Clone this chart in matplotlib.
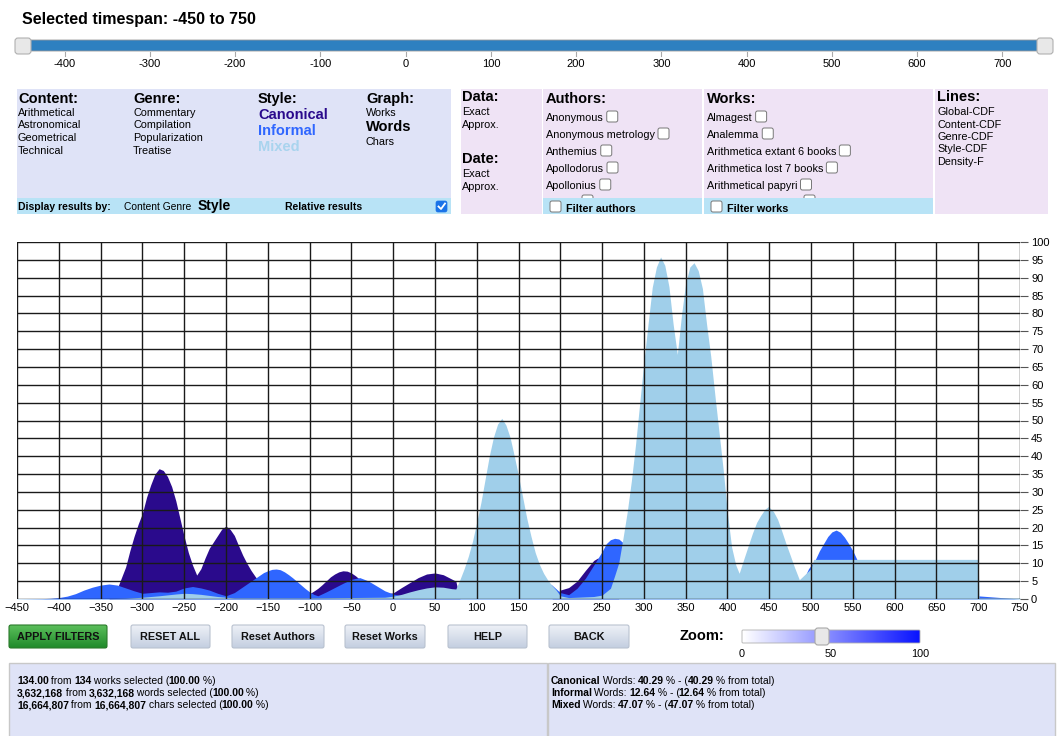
import matplotlib
matplotlib.use('Agg')
import matplotlib.pyplot as plt
import numpy as np
from matplotlib.patches import Rectangle, FancyBboxPatch
from matplotlib.colors import LinearSegmentedColormap

plt.rcParams['font.family'] = ['Liberation Sans', 'DejaVu Sans']

# density curves (relative words)
canon_x = [-450, -340, -330, -320, -315, -310, -305, -300, -295, -290, -285, -280, -275,
           -270, -265, -260, -255, -250, -245, -240, -235, -230, -225, -220, -215, -210,
           -205, -200, -195, -190, -185, -180, -175, -170, -165, -160, -150, -140, -130,
           -120, -110, -100, -95, -90, -85, -80, -75, -70, -65, -60, -55, -50, -45, -40,
           -30, -20, -10, 0, 10, 20, 30, 40, 50, 60, 70, 75, 80, 190, 200, 210, 220, 230,
           240, 245, 250, 260, 270, 750]
canon_y = [0, 0, 3, 9, 13.5, 17.5, 21, 24, 28.5, 32, 35, 36.5, 36,
           34.3, 31.5, 27.5, 22.5, 17.5, 13, 9.5, 6.7, 8.5, 11.5, 14.2, 16, 17.8,
           19.6, 20.4, 19.5, 17.8, 15, 12.3, 10, 8, 6.3, 4.8, 3, 1.5, 1,
           1, 1.2, 1.5, 2.2, 3, 4, 5.1, 6.2, 7, 7.6, 7.9, 7.8, 7.3, 6.5, 5.5,
           3.5, 2, 1.5, 1.7, 3.2, 4.6, 6, 7, 7.3, 6.8, 5.6, 5, 0, 0, 2.5, 3.2, 5, 8,
           10.8, 11.5, 10, 4, 0, 0]

inf_x = [-450, -420, -410, -400, -390, -380, -370, -360, -350, -340, -330, -320, -310,
         -300, -290, -280, -270, -260, -250, -240, -230, -220, -210, -200, -190, -180,
         -170, -165, -160, -155, -150, -145, -140, -135, -130, -125, -120, -115, -110,
         -105, -100, -95, -90, -80, -70, -60, -50, -40, -30, -20, -10, 0, 10, 20, 40,
         60, 70, 80, 100, 170, 180, 190, 200, 210, 220, 230, 240, 250, 255, 260, 265, 270,
         275, 280, 290, 300, 490, 497, 505, 510, 515, 520, 525, 530, 535, 540, 545, 550,
         555, 560, 580, 750]
inf_y = [0, 0.1, 0.2, 0.4, 0.8, 1.5, 2.5, 3.3, 3.9, 4.2, 3.9, 3.1, 2.3,
         1.6, 1.8, 2.0, 1.9, 2.2, 3.1, 3.5, 3.1, 2.5, 1.6, 0.9, 1.8, 3.4,
         5.0, 5.8, 6.6, 7.4, 7.9, 8.3, 8.4, 8.2, 7.6, 6.8, 5.9, 4.9, 3.9,
         2.9, 2.0, 1.3, 0.9, 2.0, 3.2, 4.4, 5.5, 6.0, 5.1, 3.7, 2.3, 1.4, 0.9, 1.2, 2.2,
         2.6, 2.5, 2.0, 1, 1, 5.3, 3.9, 1.8, 1.2, 3.0, 5.8, 9.5, 13.3, 15.5, 16.6, 17, 16.8,
         15.8, 13, 8, 5, 5, 8.5, 11, 13.5, 15.5, 17.5, 18.8, 19.3, 18.7, 17.3, 15.5, 13.5,
         11, 8, 3, 0]

mix_x = [-450, -340, -320, -300, -280, -260, -250, -240, -230, -220, -210, -200, -190,
         -100, -10, 0, 10, 20, 30, 40, 50, 60, 70, 75, 80, 85, 90, 95, 100, 105, 110, 115,
         120, 125, 130, 135, 140, 145, 150, 155, 160, 165, 170, 175, 180, 185, 190, 195,
         200, 210, 240, 250, 260, 265, 270, 275, 280, 285, 290, 295, 300, 305, 310, 315,
         320, 325, 330, 335, 340, 345, 350, 355, 360, 365, 370, 375, 380, 385, 390, 395,
         400, 405, 410, 414, 420, 425, 430, 435, 440, 445, 449, 455, 460, 465, 470, 475,
         480, 486, 490, 495, 500, 503, 700, 701, 750]
mix_y = [0.1, 0.1, 0.2, 0.5, 0.9, 1.4, 1.6, 1.5, 1.3, 1.0, 0.7, 0.5, 0.3,
         0.3, 0.5, 0.8, 1.3, 2.0, 2.6, 3.1, 3.4, 3.3, 2.9, 2.8, 5.5, 8.5, 12, 16.2, 21.5,
         27, 33.5, 40, 45.3, 49, 50.6, 48.7, 45.2, 40, 34.5, 28.5, 22.5, 17.5, 13, 9.7,
         7.2, 5.3, 3.8, 2.5, 0.9, 0.4, 0.7, 1.1, 3, 6.5, 10.2, 17, 24.3, 33, 43.2, 54.8,
         66.5, 77, 87.3, 93, 95.8, 93.5, 87.5, 77, 68.5, 79.5, 88.5, 93, 94.2, 92, 87, 77,
         68, 57, 46.5, 36, 24, 14.5, 9.5, 7.2, 11.5, 15, 18.5, 21.5, 23.5, 25.2, 25.9,
         24.5, 22.3, 19, 15.5, 12.3, 9, 5.4, 6.3, 7.4, 8.5, 11.1, 11.1, 0.3, 0.3]

slider_ticks = [-400, -300, -200, -100, 0, 100, 200, 300, 400, 500, 600, 700]
content = ['Arithmetical', 'Astronomical', 'Geometrical', 'Technical']
genre = ['Commentary', 'Compilation', 'Popularization', 'Treatise']
graph = ['Works', 'Words', 'Chars']
authors = ['Anonymous', 'Anonymous metrology', 'Anthemius', 'Apollodorus', 'Apollonius']
works = ['Almagest', 'Analemma', 'Arithmetica extant 6 books', 'Arithmetica lost 7 books',
         'Arithmetical papyri']
lines = ['Global-CDF', 'Content-CDF', 'Genre-CDF', 'Style-CDF', 'Density-F']
buttons = ['APPLY FILTERS', 'RESET ALL', 'Reset Authors', 'Reset Works', 'HELP', 'BACK']
totals = [('134.00', '134', 'works'), ('3,632,168', '3,632,168', 'words'),
          ('16,664,807', '16,664,807', 'chars')]
styles = ['Canonical', 'Informal', 'Mixed']
style_pct = ['40.29', '12.64', '47.07']

C_CAN = '#2a0a8c'
C_INF = '#2f66ff'
C_MIX = '#a0cfea'
BLUEP = '#dfe3f7'
PINKP = '#efe3f5'
CYAN = '#b8e3f6'

W, H = 1060, 736
fig = plt.figure(figsize=(10.6, 7.36), dpi=100)
bg = fig.add_axes([0, 0, 1, 1])
bg.axis('off')
rend = fig.canvas.get_renderer()


def box(x0, y0, x1, y1, fc, ec='none', lw=0, z=1):
    bg.add_patch(Rectangle((x0, y0), x1 - x0, y1 - y0, fc=fc, ec=ec, lw=lw, zorder=z))


def rbox(x0, y0, x1, y1, fc, ec, lw=0.8, r=3, z=3):
    p = FancyBboxPatch((x0, y0), x1 - x0, y1 - y0,
                       boxstyle='round,pad=0,rounding_size=%g' % r,
                       fc=fc, ec=ec, lw=lw, zorder=z)
    bg.add_patch(p)
    return p


def grad(x0, y0, x1, y1, c0, c1, horiz=False, z=2):
    cm = LinearSegmentedColormap.from_list('g', [c0, c1])
    g = np.linspace(0, 1, 64)
    g = g.reshape(1, -1) if horiz else g.reshape(-1, 1)
    bg.imshow(g, cmap=cm, extent=(x0, x1, y1, y0), aspect='auto', zorder=z,
              interpolation='bilinear')


def width(s, size, bold=False):
    t = bg.text(0, 0, '|' + s + '|', fontsize=size, fontweight='bold' if bold else 'normal')
    t2 = bg.text(0, 0, '||', fontsize=size, fontweight='bold' if bold else 'normal')
    w = t.get_window_extent(rend).width - t2.get_window_extent(rend).width
    t.remove()
    t2.remove()
    return w


def txt(x, y, s, size=8, bold=False, color='black', ha='left'):
    bg.text(x, y, s, fontsize=size, fontweight='bold' if bold else 'normal',
            color=color, ha=ha, va='baseline', zorder=5)


def runs(x, y, parts, size=7):
    for s, b in parts:
        txt(x, y, s, size, b)
        x += width(s, size, b) - 0.6
    return x


def checkbox(x, y, s=11, z=4):
    return rbox(x, y, x + s, y + s, 'white', '#777777', lw=0.7, r=2, z=z)


# title and time slider
txt(22, 24, 'Selected timespan: -450 to 750', 11.5, True)
rbox(22, 40, 1045, 51, '#2e80c0', '#9a9a9a', lw=0.6, r=1, z=2)
for v in slider_ticks:
    xs = 22 + (v + 450) * 1023 / 1200
    bg.plot([xs, xs], [52, 56], color='#aaaaaa', lw=0.8, zorder=2)
    txt(xs, 67, str(v), 8, ha='center')
rbox(15, 38, 31, 54, '#e8e8e8', '#b0b0b0', lw=0.8, r=3, z=4)
rbox(1037, 38, 1053, 54, '#e8e8e8', '#b0b0b0', lw=0.8, r=3, z=4)

# filter panels
box(17, 89, 451, 214, BLUEP)
box(17, 198, 451, 214, CYAN, z=1.5)
txt(18, 103, 'Content:', 10.5, True)
txt(133, 103, 'Genre:', 10.5, True)
txt(258, 103, 'Style:', 10.5, True)
txt(366, 103, 'Graph:', 10.5, True)
for i, s in enumerate(content):
    txt(18, 116 + i * 12.5, s, 7.8)
for i, s in enumerate(genre):
    txt(133, 116 + i * 12.5, s, 7.8)
for i, (s, c) in enumerate(zip(styles, [C_CAN, C_INF, '#a9d4ee'])):
    txt(258, 119 + i * 16, s, 10.5, True, c)
txt(366, 116, graph[0], 7.8)
txt(366, 131, graph[1], 10.5, True)
txt(366, 145, graph[2], 7.8)
txt(18, 210, 'Display results by:', 7.5, True)
txt(124, 210, 'Content Genre', 7.4)
txt(198, 210, 'Style', 10, True)
txt(285, 210, 'Relative results', 7.5, True)
rbox(436, 201, 447, 212, '#1a73e8', '#1a73e8', lw=0.5, r=2, z=4)
bg.plot([438.5, 441, 445], [206.5, 209, 203.5], color='white', lw=1.3, zorder=5)

box(461, 89, 542, 214, PINKP)
txt(462, 101, 'Data:', 10.5, True)
txt(462, 115, 'Exact', 7.8)
txt(462, 128, 'Approx.', 7.8)
txt(462, 163, 'Date:', 10.5, True)
txt(462, 177, 'Exact', 7.8)
txt(462, 190, 'Approx.', 7.8)

for x0, x1, head, items, foot, peek in [(543, 702, 'Authors:', authors, 'Filter authors', 39),
                                        (704, 933, 'Works:', works, 'Filter works', 100)]:
    box(x0, 89, x1, 214, PINKP)
    txt(x0 + 3, 103, head, 10.5, True)
    for i, s in enumerate(items):
        txt(x0 + 3, 121 + i * 17, s, 7.8)
        checkbox(x0 + 6 + width(s, 7.8), 111 + i * 17)
    checkbox(x0 + peek, 195, 11)
    box(x0, 198, x1, 214, CYAN, z=4.5)
    checkbox(x0 + 7, 201, 11, z=4.6)
    txt(x0 + 23, 212, foot, 7.8, True)

box(935, 89, 1048, 214, PINKP)
txt(937, 101, 'Lines:', 10.5, True)
for i, s in enumerate(lines):
    txt(937, 115 + i * 12.5, s, 7.8)

# chart
ax = fig.add_axes([17 / W, (H - 599) / H, (1020 - 17) / W, (599 - 242) / H])
ax.fill_between(canon_x, canon_y, color=C_CAN, lw=0, zorder=1)
ax.fill_between(inf_x, inf_y, color=C_INF, lw=0, zorder=1.1)
ax.fill_between(mix_x, mix_y, color=C_MIX, lw=0, zorder=1.2)
ax.set_xlim(-450, 750)
ax.set_ylim(0, 100)
ax.set_xticks(range(-450, 751, 50))
ax.set_yticks(range(0, 101, 5))
ax.grid(True, color='#1a1a1a', lw=1.0)
ax.set_axisbelow(False)
ax.yaxis.tick_right()
ax.tick_params(axis='x', length=0, pad=3, labelsize=8)
ax.tick_params(axis='y', length=6, width=0.8, color='#555555', pad=2, labelsize=8)
for sp in ax.spines.values():
    sp.set_visible(False)
ax.set_facecolor('white')

# buttons and zoom
bx = [(9, 107), (131, 210), (232, 324), (345, 425), (448, 527), (549, 629)]
for (x0, x1), s in zip(bx, buttons):
    if s == 'APPLY FILTERS':
        grad(x0, 625, x1, 648, '#5cbf5c', '#1f8a2a')
        ec = '#2c7a2c'
    else:
        grad(x0, 625, x1, 648, '#eef1f7', '#c3cee0')
        ec = '#b9c2d0'
    rbox(x0, 625, x1, 648, 'none', ec, lw=0.8, r=2, z=3)
    bg.text((x0 + x1) / 2, 637, s, fontsize=7.8, fontweight='bold', ha='center',
            va='center', color='#111111', zorder=5)

txt(680, 640, 'Zoom:', 10.5, True)
grad(742, 630, 920, 643, '#ffffff', '#0a14ff', horiz=True)
rbox(742, 630, 920, 643, 'none', '#b0b0b0', lw=0.6, r=1, z=3)
rbox(815, 628, 829, 645, '#e8e8e8', '#a8a8a8', lw=0.8, r=3, z=4)
for v in [0, 50, 100]:
    xs = 742 + v * 1.78
    txt(xs, 657, str(v), 7.8, ha='center')

# summary panels
box(9, 663, 547, 740, BLUEP, ec='#c8c8c8', lw=1)
box(548, 663, 1055, 740, BLUEP, ec='#c8c8c8', lw=1)
for i, (a, b, unit) in enumerate(totals):
    runs(17, 684 + i * 12, [(a, True), (' from ', False), (b, True),
                            (' %s selected (' % unit, False), ('100.00', True), (' %)', False)],
         7.5)
for i, (s, p) in enumerate(zip(styles, style_pct)):
    runs(551, 684 + i * 12, [(s, True), (' Words: ', False), (p, True), (' % - (', False),
                             (p, True), (' % from total)', False)], 7.5)

bg.set_xlim(0, W)
bg.set_ylim(H, 0)
fig.savefig('out.png', dpi=100)
